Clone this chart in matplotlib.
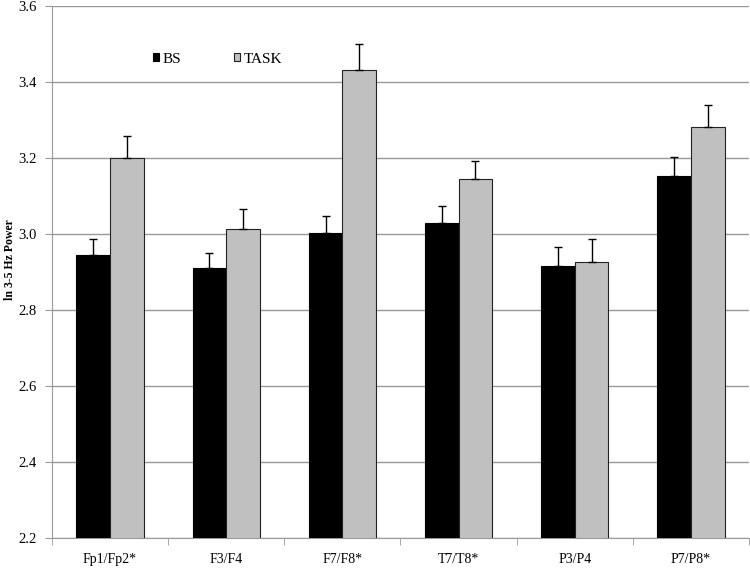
import numpy as np
import matplotlib.pyplot as plt

plt.rcParams['font.family'] = ['Liberation Serif', 'DejaVu Serif']

# electrode pairs and mean ln power
categories = ['Fp1/Fp2*', 'F3/F4', 'F7/F8*', 'T7/T8*', 'P3/P4', 'P7/P8*']
bs_values = [2.945, 2.911, 3.003, 3.030, 2.915, 3.153]
task_values = [3.201, 3.013, 3.431, 3.145, 2.926, 3.282]
bs_err = [0.042, 0.040, 0.045, 0.044, 0.050, 0.049]
task_err = [0.058, 0.054, 0.068, 0.047, 0.062, 0.058]

fig = plt.figure(figsize=(7.5, 5.7), dpi=100)
ax = fig.add_axes([52 / 750, 32 / 570, 697 / 750, 532 / 570])

x = np.arange(len(categories))
w = 0.29
err_kw = dict(elinewidth=1.0, capsize=3, capthick=1.0, ecolor='black')
ax.bar(x - w / 2, bs_values, w, color='black', edgecolor='black', linewidth=0.8,
       yerr=[np.zeros(len(bs_err)), bs_err], error_kw=err_kw, label='BS', zorder=3)
ax.bar(x + w / 2, task_values, w, color='#c0c0c0', edgecolor='#222222', linewidth=0.8,
       yerr=[np.zeros(len(task_err)), task_err], error_kw=err_kw, label='TASK', zorder=3)

ax.set_ylim(2.2, 3.6)
ax.set_xlim(-0.5, len(categories) - 0.5)
ticks = np.arange(2.2, 3.61, 0.2)
ax.set_yticks(ticks)
ax.set_yticklabels([f'{v:.1f}' for v in ticks], fontsize=10.5)
ax.yaxis.grid(True, color='#999999', linewidth=1.0, zorder=0)
ax.set_axisbelow(True)

ax.set_xticks(x)
ax.set_xticklabels(categories, fontsize=10)
ax.set_xticks(np.arange(-0.5, len(categories)), minor=True)
ax.tick_params(axis='x', which='major', length=0, pad=11)
ax.tick_params(axis='x', which='minor', length=5, color='#999999')
ax.tick_params(axis='y', length=5, color='#999999', pad=6)

for side in ['top', 'right']:
    ax.spines[side].set_visible(False)
for side in ['left', 'bottom']:
    ax.spines[side].set_color('#999999')

ax.set_ylabel('ln 3-5 Hz Power', fontsize=8.5, fontweight='bold')
ax.yaxis.set_label_coords(-0.051, 0.523)

ax.legend(loc='center left', bbox_to_anchor=(0.145, 0.9), ncol=2, frameon=False,
          fontsize=11, handlelength=0.4, handleheight=0.4, columnspacing=3.4,
          handletextpad=0.25, borderpad=0, borderaxespad=0)

fig.savefig('out.png', dpi=100)
